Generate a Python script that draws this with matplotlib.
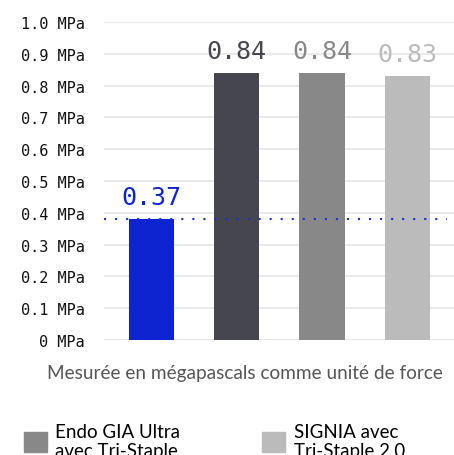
import matplotlib
matplotlib.use("Agg")
import matplotlib.pyplot as plt
from matplotlib.patches import Patch

# bar heights as drawn, and the labels printed above them
values = [0.38, 0.84, 0.84, 0.83]
value_labels = ["0.37", "0.84", "0.84", "0.83"]
colors = ["#0f24d1", "#46464e", "#888888", "#bbbbbb"]
ref_level = 0.38

yticks = [0.0, 0.1, 0.2, 0.3, 0.4, 0.5, 0.6, 0.7, 0.8, 0.9, 1.0]
ytick_labels = ["0 MPa", "0.1 MPa", "0.2 MPa", "0.3 MPa", "0.4 MPa", "0.5 MPa",
                "0.6 MPa", "0.7 MPa", "0.8 MPa", "0.9 MPa", "1.0 MPa"]

caption = "Mesurée en mégapascals comme unité de force"
legend_labels = ["Endo GIA Ultra\navec Tri-Staple", "SIGNIA avec\nTri-Staple 2.0"]
legend_colors = ["#888888", "#bbbbbb"]

fig = plt.figure(figsize=(4.54, 4.56), dpi=100)
ax = fig.add_axes([0.229, 0.2522, 0.771, 0.6974])

x = list(range(len(values)))
ax.bar(x, values, width=0.53, color=colors, zorder=2)

# dotted reference line at the blue bar's level
ax.axhline(ref_level, xmax=0.98, color="#1a2ee0", lw=1.5,
           ls=(0, (1, 4.3)), zorder=3)

for xi, v, lab, c in zip(x, values, value_labels, colors):
    ax.annotate(lab, (xi, v), xytext=(0, 7), textcoords="offset points",
                ha="center", va="bottom", fontsize=18, color=c,
                family="DejaVu Sans Mono", annotation_clip=False)

ax.set_xlim(-0.56, 3.55)
ax.set_ylim(0, 1.0)
ax.set_yticks(yticks)
ax.set_yticklabels(ytick_labels, family="DejaVu Sans Mono", fontsize=11,
                   color="#111111")
ax.set_xticks([])
ax.tick_params(axis="y", length=0, pad=14)
for s in ax.spines.values():
    s.set_visible(False)
ax.grid(axis="y", color="#e6e6e6", lw=1.2, zorder=0)
ax.axhline(0, color="#e2e2e2", lw=2.2, zorder=1)

fig.text(0.54, 0.181, caption, ha="center", va="center", fontsize=13.7,
         color="#555555", family="Lato")

# legend runs off the bottom edge, as in the source
handles = [Patch(color=c) for c in legend_colors]
leg = fig.legend(handles, legend_labels, loc="upper left",
                 bbox_to_anchor=(0.052, 0.071), ncol=2, frameon=False,
                 prop={"family": "Lato", "size": 13.5}, handlelength=1.25,
                 handleheight=1.25, handletextpad=0.45, columnspacing=4.35,
                 borderaxespad=0, borderpad=0)

fig.savefig("out.png", dpi=100)
